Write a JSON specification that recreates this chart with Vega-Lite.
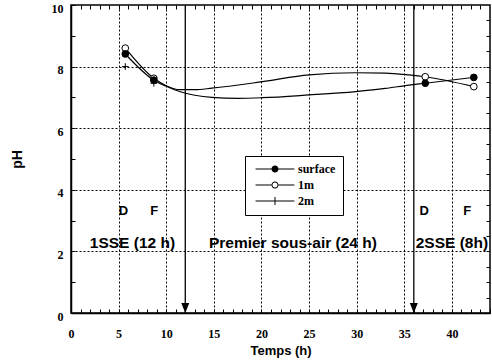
{
  "$schema": "https://vega.github.io/schema/vega-lite/v6.json",
  "width": 419,
  "height": 308,
  "autosize": {"type": "none"},
  "padding": {"left": 71, "top": 5, "right": 2, "bottom": 50},
  "background": "white",
  "config": {
    "view": {"stroke": "black", "strokeWidth": 1.5},
    "font": "Liberation Sans"
  },
  "datasets": {
    "curves": [
      {"t": 5.7, "pH": 8.41, "series": "surface"},
      {"t": 8.7, "pH": 7.56, "series": "surface"},
      {"t": 10, "pH": 7.36, "series": "surface"},
      {"t": 11.4, "pH": 7.19, "series": "surface"},
      {"t": 13, "pH": 7.07, "series": "surface"},
      {"t": 14.8, "pH": 7.0, "series": "surface"},
      {"t": 17.5, "pH": 6.97, "series": "surface"},
      {"t": 20.1, "pH": 6.99, "series": "surface"},
      {"t": 25, "pH": 7.08, "series": "surface"},
      {"t": 29.9, "pH": 7.19, "series": "surface"},
      {"t": 33, "pH": 7.29, "series": "surface"},
      {"t": 35.5, "pH": 7.4, "series": "surface"},
      {"t": 37.2, "pH": 7.46, "series": "surface"},
      {"t": 42.3, "pH": 7.65, "series": "surface"},
      {"t": 5.7, "pH": 8.6, "series": "1m"},
      {"t": 8.7, "pH": 7.62, "series": "1m"},
      {"t": 10, "pH": 7.38, "series": "1m"},
      {"t": 11.4, "pH": 7.25, "series": "1m"},
      {"t": 13, "pH": 7.25, "series": "1m"},
      {"t": 14.8, "pH": 7.3, "series": "1m"},
      {"t": 20.1, "pH": 7.51, "series": "1m"},
      {"t": 25, "pH": 7.73, "series": "1m"},
      {"t": 29.9, "pH": 7.8, "series": "1m"},
      {"t": 33, "pH": 7.79, "series": "1m"},
      {"t": 35.5, "pH": 7.73, "series": "1m"},
      {"t": 37.2, "pH": 7.67, "series": "1m"},
      {"t": 42.3, "pH": 7.35, "series": "1m"}
    ],
    "points": [
      {"t": 5.7, "pH": 8.0, "series": "2m"},
      {"t": 8.7, "pH": 7.46, "series": "2m"},
      {"t": 5.7, "pH": 8.6, "series": "1m"},
      {"t": 8.7, "pH": 7.62, "series": "1m"},
      {"t": 37.2, "pH": 7.67, "series": "1m"},
      {"t": 42.3, "pH": 7.35, "series": "1m"},
      {"t": 5.7, "pH": 8.41, "series": "surface"},
      {"t": 8.7, "pH": 7.56, "series": "surface"},
      {"t": 37.2, "pH": 7.46, "series": "surface"},
      {"t": 42.3, "pH": 7.65, "series": "surface"}
    ],
    "arrows": [{"t": 12}, {"t": 36}],
    "marks": [
      {"t": 5.5, "label": "D"},
      {"t": 8.75, "label": "F"},
      {"t": 37.1, "label": "D"},
      {"t": 41.6, "label": "F"}
    ],
    "periods": [
      {"t": 6.45, "label": "1SSE (12 h)"},
      {"t": 23.3, "label": "Premier sous-air (24 h)"},
      {"t": 40.0, "label": "2SSE (8h)"}
    ]
  },
  "layer": [
    {
      "data": {"name": "curves"},
      "mark": {"type": "line", "color": "black", "strokeWidth": 1.2, "interpolate": "monotone"},
      "encoding": {
        "x": {
          "field": "t", "type": "quantitative",
          "scale": {"domain": [0, 44], "nice": false, "zero": false},
          "axis": {
            "orient": "bottom",
            "values": [0,1,2,3,4,5,6,7,8,9,10,11,12,13,14,15,16,17,18,19,20,21,22,23,24,25,26,27,28,29,30,31,32,33,34,35,36,37,38,39,40,41,42,43,44],
            "labelExpr": "datum.value % 5 === 0 ? datum.label : ''",
            "labelFlush": false, "labelOverlap": false,
            "labelFont": "Liberation Serif", "labelFontWeight": "bold", "labelFontSize": 12, "labelColor": "black",
            "labelPadding": 19,
            "tickSize": -4, "tickColor": "black", "tickWidth": 1,
            "domainColor": "black", "domainWidth": 1.5,
            "grid": true, "gridColor": "black", "gridDash": [2, 2], "gridWidth": 1,
            "gridOpacity": {"condition": {"test": "datum.value % 5 === 0 && datum.value > 0 && datum.value < 44", "value": 1}, "value": 0},
            "title": "Temps (h)", "titleFont": "Liberation Sans", "titleFontSize": 13, "titleFontWeight": "bold", "titleColor": "black", "titlePadding": 5
          }
        },
        "y": {
          "field": "pH", "type": "quantitative",
          "scale": {"domain": [0, 10], "nice": false, "zero": false},
          "axis": {
            "orient": "left",
            "values": [0,0.5,1,1.5,2,2.5,3,3.5,4,4.5,5,5.5,6,6.5,7,7.5,8,8.5,9,9.5,10],
            "format": "d",
            "labelExpr": "datum.value % 2 === 0 ? datum.label : ''",
            "labelOverlap": false, "labelFlush": false,
            "labelFont": "Liberation Serif", "labelFontWeight": "bold", "labelFontSize": 12, "labelColor": "black",
            "labelPadding": 12, "labelOffset": 3,
            "tickSize": -4, "tickColor": "black", "tickWidth": 1,
            "domainColor": "black", "domainWidth": 1.5,
            "grid": true, "gridColor": "black", "gridDash": [2, 2], "gridWidth": 1,
            "gridOpacity": {"condition": {"test": "datum.value % 2 === 0 && datum.value > 0 && datum.value < 10", "value": 1}, "value": 0},
            "title": "pH", "titleFont": "Liberation Sans", "titleFontSize": 14, "titleFontWeight": "bold", "titleColor": "black", "titlePadding": 27
          }
        },
        "detail": {"field": "series"}
      }
    },
    {
      "data": {"name": "arrows"},
      "mark": {"type": "rule", "color": "black", "strokeWidth": 1.3},
      "encoding": {
        "x": {"field": "t", "type": "quantitative", "axis": null}
      }
    },
    {
      "data": {"name": "arrows"},
      "mark": {"type": "point", "shape": "M-0.8,-1L0.8,-1L0,1Z", "size": 100, "filled": true, "color": "black", "opacity": 1},
      "encoding": {
        "x": {"field": "t", "type": "quantitative", "axis": null},
        "y": {"datum": 0.16, "type": "quantitative", "axis": null}
      }
    },
    {
      "data": {"name": "points"},
      "mark": {"type": "point", "size": 45, "stroke": "black", "strokeWidth": 1, "opacity": 1},
      "encoding": {
        "x": {
          "field": "t", "type": "quantitative",
          "axis": {
            "orient": "top",
            "values": [1,2,3,4,5,6,7,8,9,10,11,12,13,14,15,16,17,18,19,20,21,22,23,24,25,26,27,28,29,30,31,32,33,34,35,36,37,38,39,40,41,42,43],
            "labels": false, "grid": false, "title": null, "domain": false,
            "tickSize": -4, "tickColor": "black", "tickWidth": 1
          }
        },
        "y": {
          "field": "pH", "type": "quantitative",
          "axis": {
            "orient": "right",
            "values": [0.5,1,1.5,2,2.5,3,3.5,4,4.5,5,5.5,6,6.5,7,7.5,8,8.5,9,9.5],
            "labels": false, "grid": false, "title": null, "domain": false,
            "tickSize": -4, "tickColor": "black", "tickWidth": 1
          }
        },
        "shape": {
          "field": "series", "type": "nominal",
          "scale": {"domain": ["surface", "1m", "2m"], "range": ["circle", "circle", "M-1,0L1,0M0,-1L0,1"]},
          "legend": null
        },
        "fill": {
          "field": "series", "type": "nominal",
          "scale": {"domain": ["surface", "1m", "2m"], "range": ["black", "white", "white"]},
          "legend": null
        }
      }
    },
    {
      "data": {"name": "points"},
      "transform": [{"filter": "datum.t < 0"}],
      "mark": {"type": "point", "filled": true, "color": "black", "opacity": 1},
      "encoding": {
        "x": {"field": "t", "type": "quantitative", "axis": null},
        "y": {"field": "pH", "type": "quantitative", "axis": null},
        "shape": {
          "field": "series", "type": "nominal",
          "scale": {
            "domain": ["surface", "1m", "2m"],
            "range": [
              "M-5.5,-0.14L5.5,-0.14L5.5,0.14L-5.5,0.14ZM1,0A1,1,0,1,1,-1,0A1,1,0,1,1,1,0Z",
              "M-5.5,-0.14L-1,-0.14L-1,0.14L-5.5,0.14ZM1,-0.14L5.5,-0.14L5.5,0.14L1,0.14ZM1,0A1,1,0,1,1,-1,0A1,1,0,1,1,1,0ZM0.72,0A0.72,0.72,0,1,0,-0.72,0A0.72,0.72,0,1,0,0.72,0Z",
              "M-5.5,-0.14L5.5,-0.14L5.5,0.14L-5.5,0.14ZM-0.14,-1.1L0.14,-1.1L0.14,1.1L-0.14,1.1Z"
            ]
          },
          "legend": {
            "orient": "none", "legendX": 174, "legendY": 151,
            "title": null,
            "fillColor": "white", "strokeColor": "black",
            "padding": 7, "rowPadding": 2,
            "symbolSize": 50, "symbolOffset": 17, "labelOffset": 17,
            "labelFont": "Liberation Serif", "labelFontWeight": "bold", "labelFontSize": 12, "labelColor": "black"
          }
        }
      }
    },
    {
      "data": {"name": "marks"},
      "mark": {"type": "text", "font": "Liberation Sans", "fontWeight": "bold", "fontSize": 13, "color": "black", "align": "center", "baseline": "alphabetic"},
      "encoding": {
        "x": {"field": "t", "type": "quantitative", "axis": null},
        "y": {"datum": 3.18, "type": "quantitative", "axis": null},
        "text": {"field": "label"}
      }
    },
    {
      "data": {"name": "periods"},
      "mark": {"type": "text", "font": "Liberation Sans", "fontWeight": "bold", "fontSize": 15.5, "color": "black", "align": "center", "baseline": "alphabetic"},
      "encoding": {
        "x": {"field": "t", "type": "quantitative", "axis": null},
        "y": {"datum": 2.12, "type": "quantitative", "axis": null},
        "text": {"field": "label"}
      }
    }
  ],
  "resolve": {
    "axis": {"x": "independent", "y": "independent"},
    "scale": {"shape": "independent"}
  }
}
